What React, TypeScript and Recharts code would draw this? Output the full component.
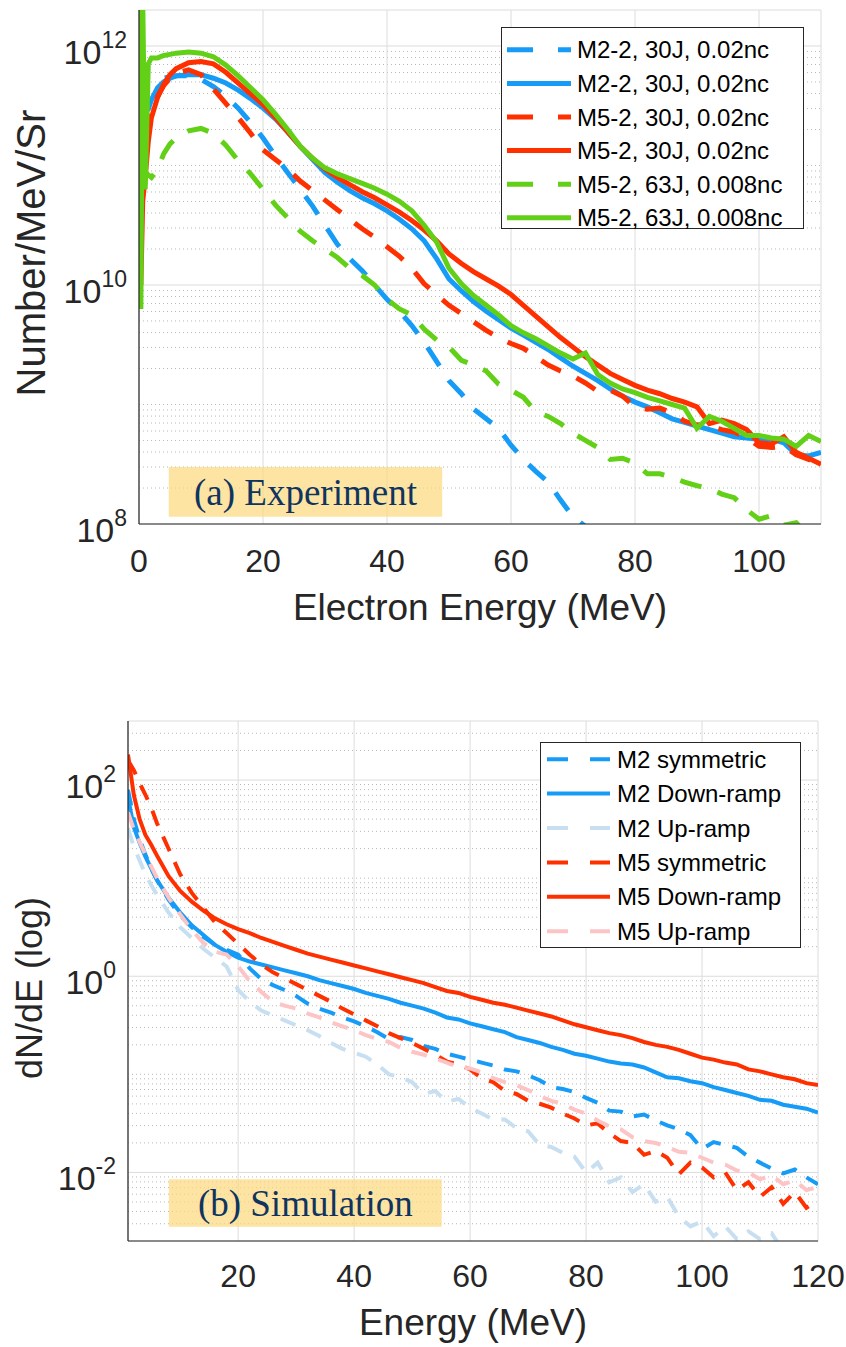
import React from 'react';
import {
  LineChart,
  Line,
  XAxis,
  YAxis,
  CartesianGrid,
  ReferenceArea,
  Legend,
} from 'recharts';

const FONT = "'Liberation Sans', Arial, Helvetica, sans-serif";
const SERIF = "'Liberation Serif', 'Times New Roman', serif";
const AXIS = '#262626';

const BLUE = '#169cf7';
const RED = '#ff3000';
const GREEN = '#62d017';
const PALE_BLUE = '#c7dff0';
const PINK = '#fdc4c6';

// ---------- (a) Experiment : energy (MeV) and log10(Number/MeV/Sr) ----------
const expEnergy = [
  0, 0.3, 0.6, 1, 1.5, 2, 3, 4, 5, 6,
  8, 10, 12, 14, 16, 18, 20, 22, 24, 26,
  28, 30, 32, 34, 36, 38, 40, 42, 44, 46,
  48, 50, 52, 54, 56, 58, 60, 62, 64, 66,
  68, 70, 72, 74, 76, 78, 80, 82, 84, 86,
  88, 90, 92, 94, 96, 98, 100, 102, 104, 106,
  108, 110,
];

const expM22Dashed = [
  12.0, 11.7, 11.8, 11.72, 11.71, 11.72, 11.72, 11.73, 11.74, 11.75,
  11.75, 11.72, 11.66, 11.58, 11.48, 11.36, 11.23, 11.08, 10.94, 10.8,
  10.66, 10.5, 10.34, 10.22, 10.12, 10.0, 9.88, 9.78, 9.66, 9.52,
  9.36, 9.2, 9.09, 8.96, 8.88, 8.8, 8.66, 8.54, 8.44, 8.35,
  8.2, 8.06, 7.98, 7.92, 7.75,
];

const expM22Solid = [
  12.2, 11.9, 11.6, 11.45, 11.47, 11.55, 11.65, 11.7, 11.73, 11.75,
  11.76, 11.76, 11.73, 11.69, 11.63, 11.56, 11.48, 11.39, 11.28, 11.16,
  11.05, 10.94, 10.86, 10.79, 10.73, 10.68, 10.62, 10.55, 10.47, 10.37,
  10.22, 10.05, 9.95, 9.86, 9.78, 9.71, 9.64, 9.58, 9.52, 9.46,
  9.39, 9.32, 9.26, 9.2, 9.13, 9.07, 9.02, 8.98, 8.93, 8.88,
  8.85, 8.82, 8.79, 8.76, 8.73, 8.72, 8.71, 8.71, 8.68, 8.58,
  8.57, 8.6,
];

const expM52Dashed = [
  10.6, 10.9, 11.0, 11.2, 11.35, 11.45, 11.58, 11.67, 11.73, 11.77,
  11.8, 11.76, 11.64, 11.52, 11.4, 11.27, 11.13, 11.05, 10.97, 10.87,
  10.79, 10.71, 10.63, 10.55, 10.47, 10.4, 10.32, 10.24, 10.14, 10.01,
  9.92, 9.83, 9.76, 9.69, 9.62, 9.56, 9.51, 9.47, 9.4, 9.33,
  9.28, 9.24, 9.18, 9.11, 9.12, 9.07, 8.98, 8.96, 8.97, 8.93,
  8.86, 8.83, 8.82, 8.79, 8.77, 8.72, 8.65, 8.64, 8.65, 8.58,
  8.54, 8.5,
];

const expM52Solid = [
  10.4, 10.0, 10.7, 10.9, 11.2, 11.4, 11.57, 11.68, 11.76, 11.81,
  11.86, 11.87, 11.85, 11.78, 11.69, 11.6, 11.51, 11.4, 11.28, 11.16,
  11.06, 10.97, 10.9, 10.84, 10.78, 10.73, 10.67, 10.61, 10.54, 10.46,
  10.37, 10.26, 10.18, 10.11, 10.05, 9.99, 9.92, 9.83, 9.74, 9.65,
  9.56, 9.48, 9.4, 9.33, 9.26, 9.21, 9.16, 9.12, 9.09, 9.05,
  9.02, 8.98, 8.84, 8.87, 8.84, 8.79, 8.68, 8.67, 8.73, 8.6,
  8.55, 8.5,
];

const expM5263Dashed = [
  10.9, 10.9, 10.92, 10.95, 10.92, 10.9, 10.97, 11.1, 11.18, 11.23,
  11.29, 11.31, 11.27, 11.17, 11.04, 10.93, 10.8, 10.67, 10.56, 10.45,
  10.37, 10.3, 10.23, 10.14, 10.08, 10.0, 9.88, 9.8, 9.75, 9.63,
  9.54, 9.48, 9.37, 9.33, 9.28, 9.17, 9.12, 9.06, 8.94, 8.9,
  8.84, 8.76, 8.7, 8.64, 8.54, 8.55, 8.51, 8.42, 8.42, 8.39,
  8.35, 8.32, 8.3, 8.25, 8.22, 8.12, 8.04, 8.07, 7.99, 8.01,
  7.9, 7.85,
];

const expM5263Solid = [
  12.5, 9.8, 12.4, 10.8, 11.85, 11.9, 11.9, 11.92, 11.93, 11.94,
  11.95, 11.94, 11.91, 11.84, 11.75, 11.65, 11.55, 11.43, 11.3, 11.16,
  11.06, 10.98, 10.93, 10.89, 10.85, 10.81, 10.76, 10.7, 10.62, 10.5,
  10.36, 10.14, 10.01, 9.91, 9.83, 9.75, 9.66, 9.6, 9.55, 9.49,
  9.43, 9.38, 9.43, 9.25, 9.18, 9.13, 9.1, 9.06, 9.03, 9.0,
  8.97, 8.8, 8.9, 8.86, 8.8, 8.74, 8.74, 8.72, 8.71, 8.65,
  8.74, 8.69,
];

const expXTicks = [0, 20, 40, 60, 80, 100];
const expYTicks = [1e8, 1e10, 1e12];
const expYMinor = [
  2e8, 3e8, 4e8, 5e8, 6e8, 7e8, 8e8, 9e8,
  1e9, 2e9, 3e9, 4e9, 5e9, 6e9, 7e9, 8e9, 9e9,
  2e10, 3e10, 4e10, 5e10, 6e10, 7e10, 8e10, 9e10,
  1e11, 2e11, 3e11, 4e11, 5e11, 6e11, 7e11, 8e11, 9e11,
];

// ---------- (b) Simulation : energy (MeV) and log10(dN/dE) ----------
const simEnergy = [
  1, 2, 3, 4, 5, 6, 8, 10, 12, 14,
  16, 18, 20, 22, 24, 26, 28, 30, 32, 34,
  36, 38, 40, 42, 44, 46, 48, 50, 52, 54,
  56, 58, 60, 62, 64, 66, 68, 70, 72, 74,
  76, 78, 80, 82, 84, 86, 88, 90, 92, 94,
  96, 98, 100, 102, 104, 106, 108, 110, 112, 114,
  116, 118, 120,
];

const simM2Sym = [
  1.9, 1.6, 1.4, 1.24, 1.1, 0.98, 0.78, 0.62, 0.5, 0.4,
  0.32, 0.27, 0.22, 0.08, -0.03, -0.09, -0.14, -0.2, -0.28, -0.33,
  -0.37, -0.42, -0.46, -0.51, -0.57, -0.64, -0.62, -0.65, -0.71, -0.74,
  -0.79, -0.82, -0.85, -0.88, -0.91, -0.95, -0.97, -1.01, -1.06, -1.13,
  -1.15, -1.18, -1.24, -1.29, -1.37, -1.38, -1.43, -1.41, -1.47, -1.52,
  -1.56, -1.62, -1.76, -1.69, -1.72, -1.75, -1.84, -1.9, -1.96, -2.01,
  -1.97, -2.05, -2.12,
];

const simM2Down = [
  1.82, 1.52, 1.36, 1.22, 1.1, 0.98, 0.8, 0.65, 0.52, 0.42,
  0.32, 0.25, 0.19, 0.15, 0.12, 0.09, 0.06, 0.03, 0.0, -0.04,
  -0.07, -0.1, -0.13, -0.17, -0.2, -0.23, -0.27, -0.3, -0.33, -0.37,
  -0.42, -0.44, -0.48, -0.51, -0.54, -0.57, -0.62, -0.65, -0.68, -0.72,
  -0.75, -0.79, -0.81, -0.84, -0.87, -0.89, -0.9, -0.93, -0.98, -1.03,
  -1.04, -1.07, -1.09, -1.13, -1.16, -1.19, -1.22, -1.26, -1.27, -1.31,
  -1.33, -1.35, -1.39,
];

const simM2Up = [
  1.51, 1.32, 1.18, 1.04, 0.93, 0.83, 0.65, 0.5, 0.39, 0.28,
  0.19, 0.1, -0.14, -0.26, -0.35, -0.4, -0.45, -0.5, -0.55, -0.61,
  -0.68, -0.74, -0.78, -0.82, -0.9, -1.0, -1.03, -1.08, -1.2, -1.17,
  -1.28, -1.25, -1.34, -1.4, -1.46, -1.46, -1.55, -1.58, -1.72, -1.74,
  -1.8, -1.84, -2.0, -1.9, -2.1, -2.05, -2.2, -2.12, -2.3, -2.25,
  -2.45, -2.55, -2.5, -2.65, -2.55, -2.68, -2.6, -2.68, -2.62, -2.8,
];

const simM5Sym = [
  2.2, 2.1, 1.97, 1.85, 1.72, 1.56, 1.3, 1.04, 0.85, 0.7,
  0.55, 0.44, 0.33, 0.22, 0.12, 0.04, -0.02, -0.08, -0.14, -0.2,
  -0.26, -0.33, -0.39, -0.45, -0.51, -0.58, -0.63, -0.68, -0.74, -0.8,
  -0.87, -0.9, -0.95, -1.04, -1.08, -1.17, -1.2, -1.27, -1.3, -1.34,
  -1.4, -1.45, -1.52, -1.5, -1.6, -1.68, -1.7, -1.82, -1.78, -1.85,
  -2.02, -1.9, -1.95, -2.05, -2.0, -2.18, -2.1, -2.25, -2.15, -2.32,
  -2.2, -2.36, -2.28,
];

const simM5Down = [
  2.26, 1.85, 1.6, 1.44, 1.34, 1.23, 1.02, 0.87, 0.76, 0.67,
  0.59, 0.53, 0.48, 0.44, 0.39, 0.35, 0.31, 0.27, 0.23, 0.2,
  0.17, 0.14, 0.11, 0.08, 0.05, 0.02, -0.01, -0.04, -0.07, -0.11,
  -0.15, -0.17, -0.21, -0.24, -0.27, -0.29, -0.32, -0.35, -0.38, -0.41,
  -0.45, -0.49, -0.52, -0.55, -0.58, -0.6, -0.63, -0.67, -0.7, -0.72,
  -0.75, -0.79, -0.83, -0.85, -0.88, -0.9, -0.95, -0.97, -1.0, -1.03,
  -1.05, -1.09, -1.11,
];

const simM5Up = [
  1.67, 1.5, 1.37, 1.24, 1.12, 1.0, 0.8, 0.63, 0.47, 0.34,
  0.25, 0.22, 0.1, -0.05, -0.16, -0.26, -0.3, -0.33, -0.38, -0.42,
  -0.47, -0.51, -0.55, -0.6, -0.64, -0.67, -0.73, -0.77, -0.8, -0.84,
  -0.88, -0.93, -0.94, -0.98, -1.04, -1.08, -1.11, -1.16, -1.22, -1.27,
  -1.3, -1.36, -1.4, -1.47, -1.53, -1.56, -1.64, -1.68, -1.7, -1.74,
  -1.79, -1.8, -1.85, -1.9, -1.92, -1.98, -2.0, -2.07, -2.03, -2.12,
  -2.08, -2.18, -2.15,
];

const simXTicks = [20, 40, 60, 80, 100, 120];
const simYTicks = [1e-2, 1, 1e2];
const simYMinor = [
  3e-3, 4e-3, 5e-3, 6e-3, 7e-3, 8e-3, 9e-3,
  2e-2, 3e-2, 4e-2, 5e-2, 6e-2, 7e-2, 8e-2, 9e-2,
  0.1, 0.2, 0.3, 0.4, 0.5, 0.6, 0.7, 0.8, 0.9,
  2, 3, 4, 5, 6, 7, 8, 9,
  10, 20, 30, 40, 50, 60, 70, 80, 90,
  200, 300,
];

type Series = { name: string; color: string; dashed: boolean; logs: number[] };

const expSeries: Series[] = [
  { name: 'M2-2, 30J, 0.02nc', color: BLUE, dashed: true, logs: expM22Dashed },
  { name: 'M2-2, 30J, 0.02nc', color: BLUE, dashed: false, logs: expM22Solid },
  { name: 'M5-2, 30J, 0.02nc', color: RED, dashed: true, logs: expM52Dashed },
  { name: 'M5-2, 30J, 0.02nc', color: RED, dashed: false, logs: expM52Solid },
  { name: 'M5-2, 63J, 0.008nc', color: GREEN, dashed: true, logs: expM5263Dashed },
  { name: 'M5-2, 63J, 0.008nc', color: GREEN, dashed: false, logs: expM5263Solid },
];

const simSeries: Series[] = [
  { name: 'M2 symmetric', color: BLUE, dashed: true, logs: simM2Sym },
  { name: 'M2 Down-ramp', color: BLUE, dashed: false, logs: simM2Down },
  { name: 'M2 Up-ramp', color: PALE_BLUE, dashed: true, logs: simM2Up },
  { name: 'M5 symmetric', color: RED, dashed: true, logs: simM5Sym },
  { name: 'M5 Down-ramp', color: RED, dashed: false, logs: simM5Down },
  { name: 'M5 Up-ramp', color: PINK, dashed: true, logs: simM5Up },
];

const toPoints = (energy: number[], logs: number[]) =>
  logs.map((v, i) => ({ x: energy[i], y: Math.pow(10, v) }));

const PowTick = (props: any) => {
  const { x, y, payload } = props;
  const exp = Math.round(Math.log10(payload.value));
  return (
    <text x={x} y={y + 18} textAnchor="end" fontSize={34} fill={AXIS} fontFamily={FONT}>
      10
      <tspan dy={-16} fontSize={23}>{exp}</tspan>
    </text>
  );
};

type LegendSpec = {
  left: number; top: number; width: number; height: number;
  rowH: number; padTop: number; sampleX: number; sampleW: number; textX: number;
  dash: string;
};

const LegendBox = ({ series, spec, strokeWidth }: { series: Series[]; spec: LegendSpec; strokeWidth: number }) => (
  <svg width={spec.width} height={spec.height} style={{ display: 'block', overflow: 'visible' }}>
    <rect x={0.5} y={0.5} width={spec.width - 1} height={spec.height - 1} fill="#fff" stroke={AXIS} strokeWidth={1} />
    {series.map((s, i) => {
      const cy = spec.padTop + spec.rowH * (i + 0.5);
      return (
        <g key={i}>
          <line
            x1={spec.sampleX}
            x2={spec.sampleX + spec.sampleW}
            y1={cy}
            y2={cy}
            stroke={s.color}
            strokeWidth={strokeWidth}
            strokeDasharray={s.dashed ? spec.dash : undefined}
          />
          <text x={spec.textX} y={cy} dominantBaseline="central" fontSize={24} fontFamily={FONT} fill="#000">
            {s.name}
          </text>
        </g>
      );
    })}
  </svg>
);

type PanelProps = {
  height: number;
  margin: { top: number; right: number; bottom: number; left: number };
  xDomain: [number, number];
  xTicks: number[];
  yDomain: [number, number];
  yTicks: number[];
  yMinor: number[];
  energy: number[];
  series: Series[];
  strokeWidth: number;
  dash: string;
  tickMargin: number;
  xTitle: string;
  xTitleDy: number;
  xTitleSize: number;
  yTitle: string;
  yTitleSize: number;
  yTitleDx: number;
  yTitleDy: number;
  note: { x1: number; x2: number; y1: number; y2: number; text: string };
  legend: LegendSpec;
};

const Panel = (p: PanelProps) => {
  const tickLine = { stroke: AXIS, strokeWidth: 1.2 };
  const axisLine = { stroke: AXIS, strokeWidth: 1.2 };
  return (
    <LineChart width={846} height={p.height} margin={p.margin}>
      <CartesianGrid
        xAxisId="x"
        yAxisId="y"
        vertical={false}
        horizontalValues={p.yMinor}
        stroke="#b8b8b8"
        strokeDasharray="1 3"
      />
      <CartesianGrid xAxisId="x" yAxisId="y" stroke="#dcdcdc" />

      <XAxis
        xAxisId="x"
        dataKey="x"
        type="number"
        domain={p.xDomain}
        ticks={p.xTicks}
        interval={0}
        allowDataOverflow
        height={60}
        tickLine={false}
        tickSize={0}
        tickMargin={p.tickMargin}
        axisLine={axisLine}
        tick={{ fontSize: 32, fill: AXIS, fontFamily: FONT }}
        label={(lp: any) => (
          <text
            x={lp.viewBox.x + lp.viewBox.width / 2}
            y={lp.viewBox.y + p.xTitleDy}
            textAnchor="middle"
            fontSize={p.xTitleSize}
            fontFamily={FONT}
            fill={AXIS}
          >
            {p.xTitle}
          </text>
        )}
      />
      <XAxis xAxisId="xb" type="number" domain={p.xDomain} ticks={p.xTicks} interval={0} allowDataOverflow
        mirror height={0} tick={false} axisLine={false} tickSize={7} tickLine={tickLine} />
      <XAxis xAxisId="xt" orientation="top" type="number" domain={p.xDomain} ticks={p.xTicks} interval={0} allowDataOverflow
        mirror height={0} tick={false} axisLine={axisLine} tickSize={7} tickLine={tickLine} />

      <YAxis
        yAxisId="y"
        type="number"
        scale="log"
        domain={p.yDomain}
        ticks={p.yTicks}
        interval={0}
        allowDataOverflow
        width={100}
        tickLine={false}
        tickSize={0}
        tickMargin={12}
        axisLine={axisLine}
        tick={(tp: any) => <PowTick {...tp} />}
        label={(lp: any) => {
          const bx = lp.viewBox.x + p.yTitleDx;
          const cy = lp.viewBox.y + lp.viewBox.height / 2 + p.yTitleDy;
          return (
            <text
              x={bx}
              y={cy}
              transform={`rotate(-90 ${bx} ${cy})`}
              textAnchor="middle"
              fontSize={p.yTitleSize}
              fontFamily={FONT}
              fill={AXIS}
            >
              {p.yTitle}
            </text>
          );
        }}
      />
      <YAxis yAxisId="yMajL" type="number" scale="log" domain={p.yDomain} ticks={p.yTicks} interval={0} allowDataOverflow
        mirror width={0} tick={false} axisLine={false} tickSize={7} tickLine={tickLine} />
      <YAxis yAxisId="yMinL" type="number" scale="log" domain={p.yDomain} ticks={p.yMinor} interval={0} allowDataOverflow
        mirror width={0} tick={false} axisLine={false} tickSize={4} tickLine={tickLine} />
      <YAxis yAxisId="yMajR" orientation="right" type="number" scale="log" domain={p.yDomain} ticks={p.yTicks} interval={0} allowDataOverflow
        mirror width={0} tick={false} axisLine={axisLine} tickSize={7} tickLine={tickLine} />
      <YAxis yAxisId="yMinR" orientation="right" type="number" scale="log" domain={p.yDomain} ticks={p.yMinor} interval={0} allowDataOverflow
        mirror width={0} tick={false} axisLine={false} tickSize={4} tickLine={tickLine} />

      <ReferenceArea
        xAxisId="x"
        yAxisId="y"
        x1={p.note.x1}
        x2={p.note.x2}
        y1={p.note.y1}
        y2={p.note.y2}
        fill="#fcd97a"
        fillOpacity={0.7}
        stroke="none"
        label={{ value: p.note.text, position: 'center', fill: '#0f3460', fontSize: 37, fontFamily: SERIF }}
      />

      {p.series.map((s, i) => (
        <Line
          key={i}
          xAxisId="x"
          yAxisId="y"
          data={toPoints(p.energy, s.logs)}
          dataKey="y"
          name={s.name}
          type="linear"
          stroke={s.color}
          strokeWidth={p.strokeWidth}
          strokeDasharray={s.dashed ? p.dash : undefined}
          dot={false}
          activeDot={false}
          isAnimationActive={false}
        />
      ))}

      <Legend
        layout="vertical"
        align="center"
        verticalAlign="middle"
        wrapperStyle={{ left: p.legend.left, top: p.legend.top, width: p.legend.width, height: p.legend.height }}
        content={() => <LegendBox series={p.series} spec={p.legend} strokeWidth={p.strokeWidth} />}
      />
    </LineChart>
  );
};

export default function App() {
  return (
    <div style={{ position: 'absolute', left: 0, top: 0, width: 846, height: 1347, background: '#fff' }}>
      <div style={{ position: 'absolute', left: 0, top: 0 }}>
        <Panel
          height={660}
          margin={{ top: 10, right: 25, bottom: 76, left: 39 }}
          xDomain={[0, 110]}
          xTicks={expXTicks}
          yDomain={[1e8, 2e12]}
          yTicks={expYTicks}
          yMinor={expYMinor}
          energy={expEnergy}
          series={expSeries}
          strokeWidth={5}
          dash="22 17"
          tickMargin={25}
          xTitle="Electron Energy (MeV)"
          xTitleDy={96}
          xTitleSize={37}
          yTitle="Number/MeV/Sr"
          yTitleSize={40}
          yTitleDx={6}
          yTitleDy={-14}
          note={{ x1: 4.8, x2: 48.9, y1: 1.15e8, y2: 3.0e8, text: '(a) Experiment' }}
          legend={{ left: 501, top: 27, width: 303, height: 202, rowH: 33.6, padTop: 6, sampleX: 6, sampleW: 64, textX: 76, dash: '26 25' }}
        />
      </div>
      <div style={{ position: 'absolute', left: 0, top: 680 }}>
        <Panel
          height={667}
          margin={{ top: 41, right: 28, bottom: 46, left: 28 }}
          xDomain={[1, 120]}
          xTicks={simXTicks}
          yDomain={[2e-3, 400]}
          yTicks={simYTicks}
          yMinor={simYMinor}
          energy={simEnergy}
          series={simSeries}
          strokeWidth={4}
          dash="16 12"
          tickMargin={23}
          xTitle="Energy (MeV)"
          xTitleDy={94}
          xTitleSize={37}
          yTitle="dN/dE (log)"
          yTitleSize={36}
          yTitleDx={14}
          yTitleDy={7}
          note={{ x1: 8.05, x2: 55.1, y1: 2.8e-3, y2: 8.5e-3, text: '(b) Simulation' }}
          legend={{ left: 540, top: 62, width: 261, height: 206, rowH: 34.4, padTop: 0, sampleX: 7, sampleW: 63, textX: 77, dash: '21 22' }}
        />
      </div>
    </div>
  );
}
